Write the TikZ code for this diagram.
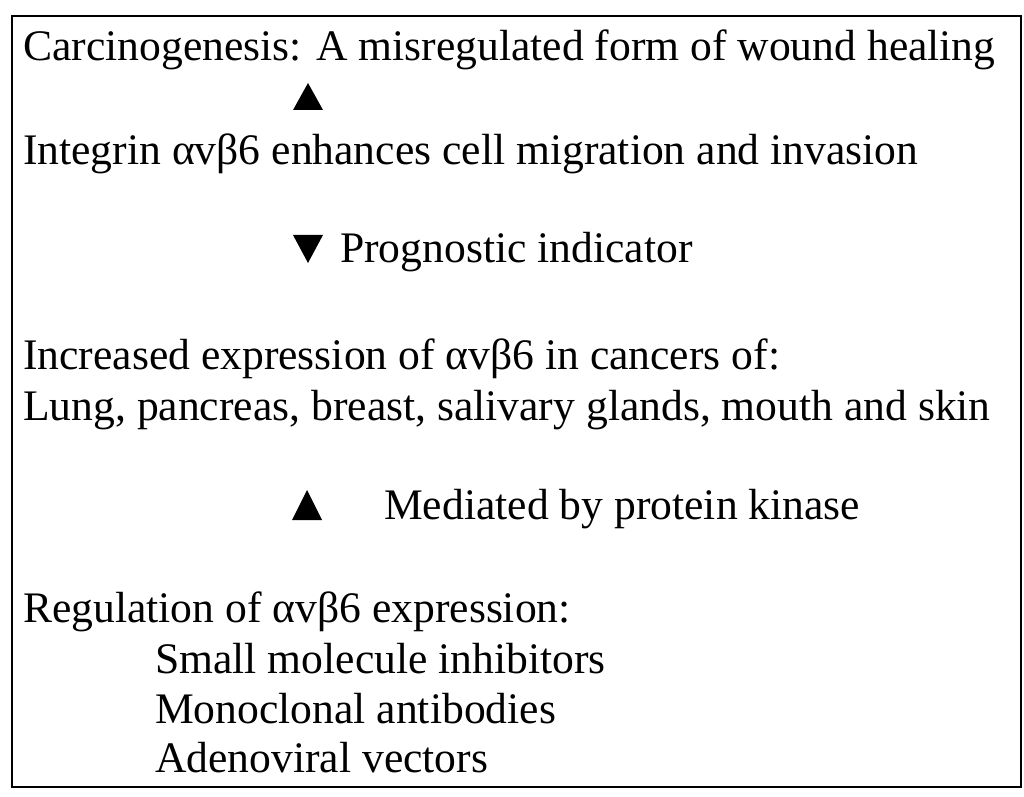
\documentclass[tikz,border=0pt]{standalone}
\usepackage{fontspec}
\setmainfont{Liberation Serif}
\begin{document}
\begin{tikzpicture}[%
x=1pt,y=1pt,
line/.style={anchor=base west, inner sep=0pt, font=\fontsize{43.6}{50}\selectfont},
tri/.style={fill=black},
]
\useasboundingbox (0,0) rectangle (1024,796);
\draw [line width=1.2pt] (12,9) rectangle (1021,780);
%% text lines;
\node[line] (carc) at (23,735) {Carcinogenesis: A misregulated form of wound healing};
\node[line] (integ) at (23,631) {Integrin αvβ6 enhances cell migration and invasion};
\node[line] (progn) at (340,533) {Prognostic indicator};
\node[line] (incr) at (23,426) {Increased expression of αvβ6 in cancers of:};
\node[line] (lung) at (23,376) {Lung, pancreas, breast, salivary glands, mouth and skin};
\node[line] (medi) at (384,277) {Mediated by protein kinase};
\node[line] (regu) at (23,174) {Regulation of αvβ6 expression:};
\node[line] (small) at (155,123) {Small molecule inhibitors};
\node[line] (mono) at (155,73) {Monoclonal antibodies};
\node[line] (adeno) at (155,24) {Adenoviral vectors};
%% triangles;
\fill[tri] (293,686) -- (323,686) -- (308,713) -- cycle;
\fill[tri] (293,561) -- (323,561) -- (308,533) -- cycle;
\fill[tri] (292,276) -- (322,276) -- (307,306) -- cycle;
\end{tikzpicture}
\end{document}
